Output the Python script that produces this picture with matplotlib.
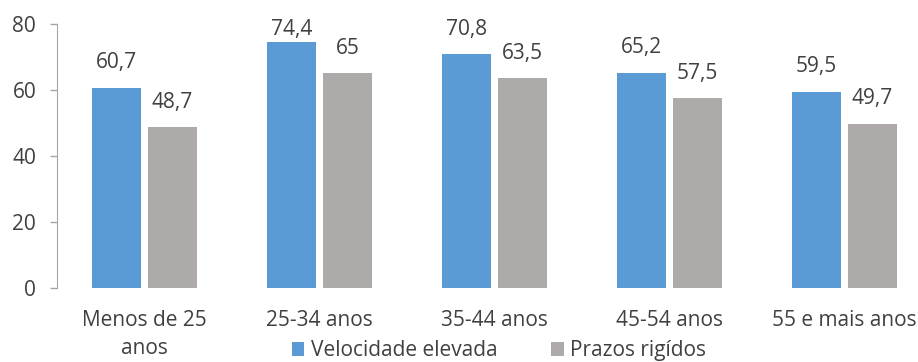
import matplotlib
matplotlib.use("Agg")
import matplotlib.pyplot as plt
import numpy as np

plt.rcParams['font.family'] = ['Open Sans', 'DejaVu Sans']

categories = ["Menos de 25\nanos", "25-34 anos", "35-44 anos", "45-54 anos", "55 e mais anos"]
velocidade = [60.7, 74.4, 70.8, 65.2, 59.5]
prazos = [48.7, 65, 63.5, 57.5, 49.7]
series_names = ["Velocidade elevada", "Prazos rigídos"]
yticks = [0, 20, 40, 60, 80]

blue = "#5B9BD5"
gray = "#AEAAAA"
text_color = "#404040"
fs = 15

fig = plt.figure(figsize=(9.18, 3.62), dpi=100)
ax = fig.add_axes([57 / 918, 74 / 362, 875 / 918, 264 / 362])

x = np.arange(len(categories))
w = 0.28
off = 0.16
b1 = ax.bar(x - off, velocidade, w, color=blue, label=series_names[0])
b2 = ax.bar(x + off, prazos, w, color=gray, label=series_names[1])

def fmt(v):
    s = f"{v:g}"
    return s.replace(".", ",")

# labels sit above the bars, but are kept from running past the top of the chart
label_cap = 70.6
for bars, vals in ((b1, velocidade), (b2, prazos)):
    for rect, v in zip(bars, vals):
        ax.annotate(fmt(v), (rect.get_x() + rect.get_width() / 2, min(v, label_cap)),
                    xytext=(0, 14.2), textcoords="offset points",
                    ha="center", va="baseline", fontsize=fs, color=text_color,
                    annotation_clip=False)

ax.set_xlim(-0.5, len(categories) - 0.5)
ax.set_ylim(0, 80)
ax.set_yticks(yticks)
ax.set_xticks(x)
ax.set_xticklabels(categories, fontsize=fs, color=text_color, linespacing=1.45)
ax.tick_params(axis='x', length=0, pad=16)
ax.tick_params(axis='y', length=5, width=1, color="#A6A6A6", labelsize=fs,
               labelcolor=text_color, pad=10)
for s in ("top", "right", "bottom"):
    ax.spines[s].set_visible(False)
ax.spines["left"].set_color("#A6A6A6")

fig.legend(handles=[b1, b2], labels=series_names, loc="lower center",
           bbox_to_anchor=(0.5435, -0.05), ncol=2, frameon=False,
           fontsize=fs, handlelength=0.6, handleheight=0.6,
           handletextpad=0.3, columnspacing=2.6, labelcolor=text_color)

fig.savefig("out.png", dpi=100)
